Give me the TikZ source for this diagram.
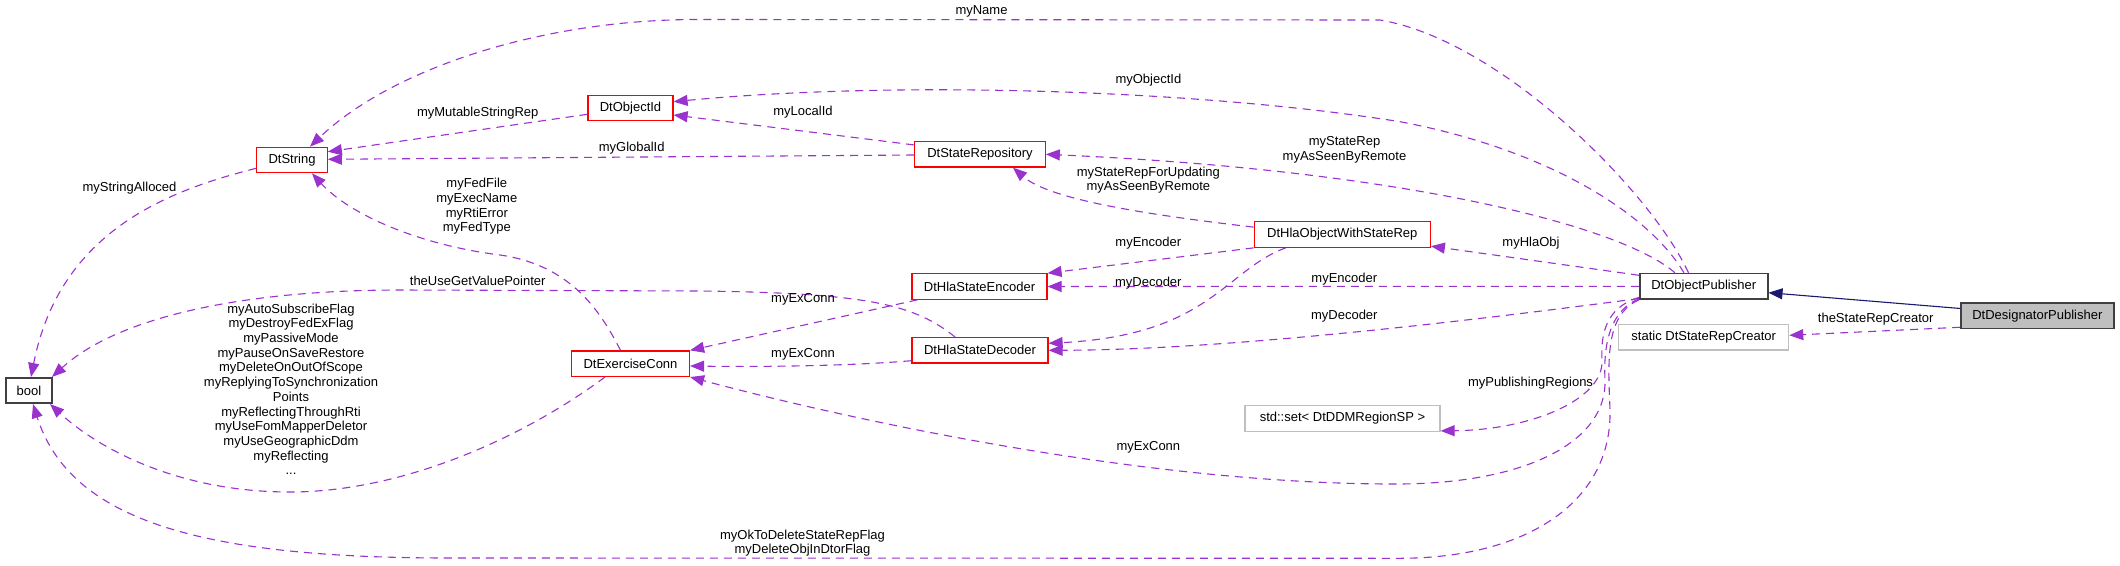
\documentclass[tikz,border=0pt]{standalone}
\usepackage{fontspec}
\setmainfont{Liberation Sans}
\usetikzlibrary{arrows.meta,calc}
\definecolor{edgec}{HTML}{9A32CD}
\definecolor{inhc}{HTML}{191970}
\definecolor{redb}{HTML}{FF0000}
\definecolor{grayb}{HTML}{BFBFBF}
\definecolor{darkb}{HTML}{404040}
\begin{document}
\begin{tikzpicture}[x=1pt,y=-1pt,
  every node/.style={font=\fontsize{13}{14.7}\selectfont},
  cls/.style={draw, line width=1.2pt, rectangle, inner sep=0pt, minimum height=25.5pt},
  redcls/.style={cls, draw=redb},
  blkcls/.style={cls, draw=darkb, line width=1.6pt},
  grycls/.style={cls, draw=grayb},
  lbl/.style={inner sep=0pt, align=center},
  use/.style={draw=edgec, line width=1.1pt, dash pattern=on 8pt off 6pt, -{Triangle[length=14pt,width=11pt,fill=edgec]}},
  inh/.style={draw=inhc, line width=1.1pt, -{Triangle[length=14pt,width=11pt,fill=inhc]}}
]
\fill[white] (0,0) rectangle (2120,565);
\useasboundingbox (0,0) rectangle (2120,565);

% nodes
\node[blkcls, minimum width=46.4pt] (bool) at (29,390.5) {bool};
\node[redcls, minimum width=70.5pt] (str) at (292,160) {DtString};
\node[redcls, minimum width=85pt] (oid) at (630.5,108) {DtObjectId};
\node[redcls, minimum width=130.5pt] (rep) at (980,154.3) {DtStateRepository};
\node[redcls, minimum width=176pt] (hla) at (1342.3,234.5) {DtHlaObjectWithStateRep};
\node[redcls, minimum width=135pt] (enc) at (979.5,286.5) {DtHlaStateEncoder};
\node[redcls, minimum width=136pt] (dec) at (980,350.3) {DtHlaStateDecoder};
\node[redcls, minimum width=118pt] (exc) at (630.5,363.7) {DtExerciseConn};
\node[blkcls, minimum width=128pt] (pub) at (1703.7,286.3) {DtObjectPublisher};
\node[grycls, minimum width=170pt] (src) at (1703.7,337.2) {static DtStateRepCreator};
\node[blkcls, fill=grayb, minimum width=153pt] (dsg) at (2037.3,315.7) {DtDesignatorPublisher};
\node[grycls, minimum width=195pt] (set) at (1342.5,418.5) {std::set< DtDDMRegionSP >};

% edges
\draw[inh] ($(dsg.north west)+(0,6.3)$) -- ($(pub.east)+(0,6.4)$);
\draw[use] ($(dsg.south west)+(0,-2)$) -- ($(src.east)+(0,-1.9)$);
\draw[use] ($(pub.north west)+(0,2.5)$) -- ($(hla.south east)+(0,-1.7)$);
\draw[use] (pub.west) -- (enc.east);
\draw[use] ($(pub.south west)+(0,-1.3)$) .. controls (1400,330) and (1200,350) .. (dec.east);
\draw[use] (hla.south west) -- (enc.north east);
\draw[use] ($(hla.south west)+(32,0)$) .. controls (1225,270) and (1210,335) .. ($(dec.east)+(0,-7)$);
\draw[use] ($(hla.north west)+(0,6)$) .. controls (1150,215) and (1050,200) .. ($(rep.south)+(33,0)$);
\draw[use] ($(pub.north west)+(36,0)$) .. controls (1620,225) and (1400,170) .. (rep.east);
\draw[use] ($(pub.north west)+(45,0)$) .. controls (1650,215) and (1550,150) .. (1400,121.7) .. controls (1200,90) and (900,80) .. ($(oid.east)+(0,-6.3)$);
\draw[use] ($(pub.north west)+(49.6,0)$) .. controls (1650,190) and (1500,40) .. (1380,20) -- (700,19.5) .. controls (540,19) and (390,70) .. ($(str.north)+(18,0)$);
\draw[use] ($(oid.west)+(0,6.3)$) -- ($(str.east)+(0,-8.3)$);
\draw[use] ($(rep.west)+(0,0.7)$) -- ($(str.east)+(0,-0.7)$);
\draw[use] ($(rep.north west)+(0,4)$) -- ($(oid.east)+(0,7)$);
\draw[use] ($(exc.north)+(-10,0)$) .. controls (600,310) and (570,265) .. (500,255) .. controls (420,245) and (350,215) .. ($(str.south)+(20,0)$);
\draw[use] ($(exc.south)+(-25.5,0)$) .. controls (520,440) and (400,492) .. (290,492) .. controls (180,492) and (100,450) .. ($(bool.south east)+(-3,0)$);
\draw[use] ($(dec.north)+(-25,0)$) .. controls (915,305) and (870,293) .. (700,291) -- (400,290) .. controls (250,290) and (120,315) .. ($(bool.north east)+(-1,0)$);
\draw[use] ($(enc.south west)+(6,0)$) -- (exc.north east);
\draw[use] ($(dec.west)+(0,10.4)$) .. controls (850,366) and (760,367) .. ($(exc.east)+(0,2.3)$);
\draw[use] ($(pub.south west)+(0,-1)$) .. controls (1612,310) and (1603,340) .. (1605,380) .. controls (1607,440) and (1530,483) .. (1400,484) .. controls (1150,485) and (850,420) .. (exc.south east);
\draw[use] ($(pub.south west)+(0,-2.5)$) .. controls (1612,306) and (1600,325) .. (1602,360) .. controls (1604,400) and (1530,430) .. ($(set.south east)+(0,-1)$);
\draw[use] (pub.south west) .. controls (1605,315) and (1608,360) .. (1610,410) .. controls (1612,500) and (1530,558) .. (1400,558.3) -- (450,558) .. controls (200,558) and (70,520) .. ($(bool.south)+(4,0)$);
\draw[use] ($(str.west)+(0,8.3)$) .. controls (170,190) and (60,230) .. ($(bool.north)+(2,0)$);

% labels
\node[lbl] (lName) at (981.5,11.7) {myName};
\node[lbl] (lObjId) at (1148.4,80.3) {myObjectId};
\node[lbl] (lMut) at (477.7,112.7) {myMutableStringRep};
\node[lbl] (lLoc) at (803,111.7) {myLocalId};
\node[lbl] (lGlob) at (631.7,148.3) {myGlobalId};
\node[lbl] (lSR) at (1344.5,149.7) {myStateRep\\myAsSeenByRemote};
\node[lbl] (lSRU) at (1148.4,180.2) {myStateRepForUpdating\\myAsSeenByRemote};
\node[lbl] (lStrA) at (129.5,188.3) {myStringAlloced};
\node[lbl] (lFed) at (476.8,206.5) {myFedFile\\myExecName\\myRtiError\\myFedType};
\node[lbl] (lHla) at (1531,243.3) {myHlaObj};
\node[lbl] (lEnc1) at (1148.3,243.3) {myEncoder};
\node[lbl] (lEnc2) at (1344.3,279) {myEncoder};
\node[lbl] (lUse) at (477.7,280.7) {theUseGetValuePointer};
\node[lbl] (lDec1) at (1148.3,283.3) {myDecoder};
\node[lbl] (lEx1) at (803,299.3) {myExConn};
\node[lbl] (lDec2) at (1344.3,315.7) {myDecoder};
\node[lbl] (lSRC) at (1875.7,319.3) {theStateRepCreator};
\node[lbl] (lEx2) at (803,354.3) {myExConn};
\node[lbl] (lPub) at (1530.5,382.7) {myPublishingRegions};
\node[lbl] (lBig) at (291,389.3) {myAutoSubscribeFlag\\myDestroyFedExFlag\\myPassiveMode\\myPauseOnSaveRestore\\myDeleteOnOutOfScope\\myReplyingToSynchronization\\Points\\myReflectingThroughRti\\myUseFomMapperDeletor\\myUseGeographicDdm\\myReflecting\\...};
\node[lbl] (lEx3) at (1148.4,447.7) {myExConn};
\node[lbl] (lOk) at (802.5,543) {myOkToDeleteStateRepFlag\\myDeleteObjInDtorFlag};
\end{tikzpicture}
\end{document}
